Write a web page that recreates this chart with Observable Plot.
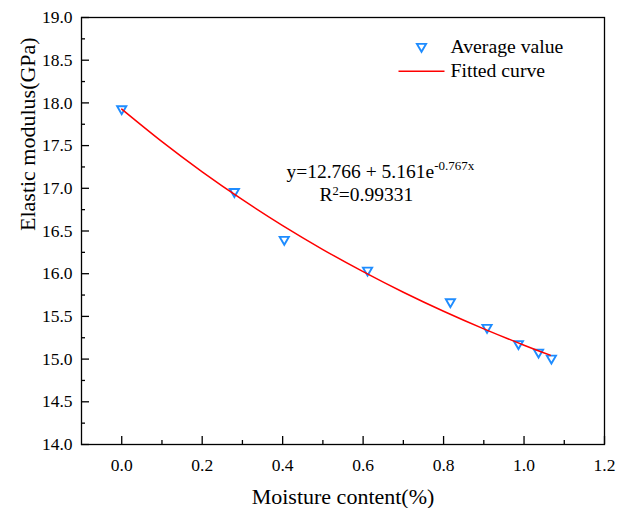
<!DOCTYPE html>
<html>
<head>
<meta charset="utf-8">
<script src="https://cdn.jsdelivr.net/npm/d3@7"></script>
<script src="https://cdn.jsdelivr.net/npm/@observablehq/plot@0.6"></script>
<style>
  html, body { margin: 0; padding: 0; background: white; }
  #chart { width: 623px; height: 508px; }
  #chart svg text { font-family: 'Liberation Serif', 'Times New Roman', serif; }
</style>
</head>
<body>
<div id="chart"></div>
<script>
const moisture = [0, 0.28, 0.404, 0.611, 0.817, 0.908, 0.986, 1.036, 1.068];
const modulus  = [17.93, 16.96, 16.40, 16.04, 15.67, 15.37, 15.18, 15.08, 15.01];

// Fitted curve samples
const curveX = [0, 0.1, 0.2, 0.3, 0.4, 0.5, 0.6, 0.7, 0.8, 0.9, 1.0, 1.065];
const curveY = [17.927, 17.546, 17.193, 16.866, 16.563, 16.283, 16.024, 15.783, 15.560, 15.354, 15.163, 15.046];

// Tick values
const xMajor = [0, 0.2, 0.4, 0.6, 0.8, 1.0, 1.2];
const xMinor = [0.1, 0.3, 0.5, 0.7, 0.9, 1.1];
const yMajor = [14, 14.5, 15, 15.5, 16, 16.5, 17, 17.5, 18, 18.5, 19];
const yMinor = [14.25, 14.75, 15.25, 15.75, 16.25, 16.75, 17.25, 17.75, 18.25, 18.75];

// Texts
const xTitle = "Moisture content(%)";
const yTitle = "Elastic modulus(GPa)";
const legendPoints = "Average value";
const legendCurve = "Fitted curve";
const eqMain = "y=12.766 + 5.161e";
const eqExp = "-0.767x";
const r2Main = "R";
const r2Exp = "2";
const r2Val = "=0.99331";

const points = moisture.map((x, i) => ({x, y: modulus[i]}));
const curve = curveX.map((x, i) => ({x, y: curveY[i]}));

const W = 623, H = 508, mL = 81, mR = 19, mT = 17, mB = 64;
const innerW = W - mL - mR, innerH = H - mT - mB;
const fmt = d3.format(".1f");
const blue = "#1E8CFF";
const serif = "'Liberation Serif', 'Times New Roman', serif";

const lineSymbol = {
  draw(context) { context.moveTo(-23, 0); context.lineTo(23, 0); }
};

const chart = Plot.plot({
  width: W, height: H,
  marginLeft: mL, marginRight: mR, marginTop: mT, marginBottom: mB,
  x: {domain: [-0.1, 1.2], axis: null},
  y: {domain: [14, 19], axis: null},
  style: {fontFamily: serif, background: "white", color: "black"},
  marks: [
    // inward ticks
    Plot.tickX(xMajor, {x: d => d, insetTop: innerH - 8, stroke: "black", strokeWidth: 1.3}),
    Plot.tickX(xMinor, {x: d => d, insetTop: innerH - 4, stroke: "black", strokeWidth: 1.3}),
    Plot.tickY(yMajor, {y: d => d, insetRight: innerW - 8, stroke: "black", strokeWidth: 1.3}),
    Plot.tickY(yMinor, {y: d => d, insetRight: innerW - 4, stroke: "black", strokeWidth: 1.3}),
    Plot.frame({stroke: "black", strokeWidth: 1.3}),
    // tick labels
    Plot.text(xMajor, {x: d => d, frameAnchor: "bottom", dy: 21, text: d => fmt(d), fontSize: 17.5, fontFamily: serif, lineAnchor: "middle"}),
    Plot.text(yMajor, {y: d => d, frameAnchor: "left", dx: -9, text: d => fmt(d), fontSize: 17.5, fontFamily: serif, textAnchor: "end", lineAnchor: "middle"}),
    // axis titles
    Plot.text([xTitle], {frameAnchor: "bottom", dy: 52, fontSize: 22, fontFamily: serif, lineAnchor: "middle"}),
    Plot.text([yTitle], {frameAnchor: "left", dx: -54, rotate: -90, fontSize: 22, fontFamily: serif, lineAnchor: "middle"}),
    // data
    Plot.dot(points, {x: "x", y: "y", symbol: "triangle", rotate: 180, r: 3.4, stroke: blue, strokeWidth: 1.9, fill: "none"}),
    Plot.line(curve, {x: "x", y: "y", stroke: "#ff0000", strokeWidth: 1.5, curve: "natural"}),
    // legend
    Plot.dot([legendPoints], {frameAnchor: "top-left", dx: 340, dy: 29, symbol: "triangle", rotate: 180, r: 3.4, stroke: blue, strokeWidth: 1.9, fill: "none"}),
    Plot.text([legendPoints], {frameAnchor: "top-left", dx: 369, dy: 29.5, textAnchor: "start", fontSize: 19.7, fontFamily: serif, lineAnchor: "middle"}),
    Plot.dot([legendCurve], {frameAnchor: "top-left", dx: 340, dy: 53.7, symbol: lineSymbol, stroke: "#ff0000", strokeWidth: 1.5, fill: "none"}),
    Plot.text([legendCurve], {frameAnchor: "top-left", dx: 369, dy: 53.5, textAnchor: "start", fontSize: 19.7, fontFamily: serif, lineAnchor: "middle"}),
    // equation
    Plot.text([eqMain + eqExp], {frameAnchor: "top-left", dx: 205, dy: 154, textAnchor: "start", fontSize: 19.5, fontFamily: serif, lineAnchor: "middle"}),
    Plot.text([r2Main + r2Exp + r2Val], {frameAnchor: "top-left", dx: 238, dy: 177, textAnchor: "start", fontSize: 19.5, fontFamily: serif, lineAnchor: "middle"})
  ]
});

// superscripts
d3.select(chart).selectAll("text").each(function() {
  const t = d3.select(this);
  const s = this.textContent;
  if (s === eqMain + eqExp) {
    t.text(null);
    t.append("tspan").text(eqMain);
    t.append("tspan").attr("font-size", 13).attr("dy", -8).text(eqExp);
  } else if (s === r2Main + r2Exp + r2Val) {
    t.text(null);
    t.append("tspan").text(r2Main);
    t.append("tspan").attr("font-size", 12.5).attr("dy", -6).text(r2Exp);
    t.append("tspan").attr("dy", 6).text(r2Val);
  }
});

document.getElementById("chart").appendChild(chart);
</script>
</body>
</html>
